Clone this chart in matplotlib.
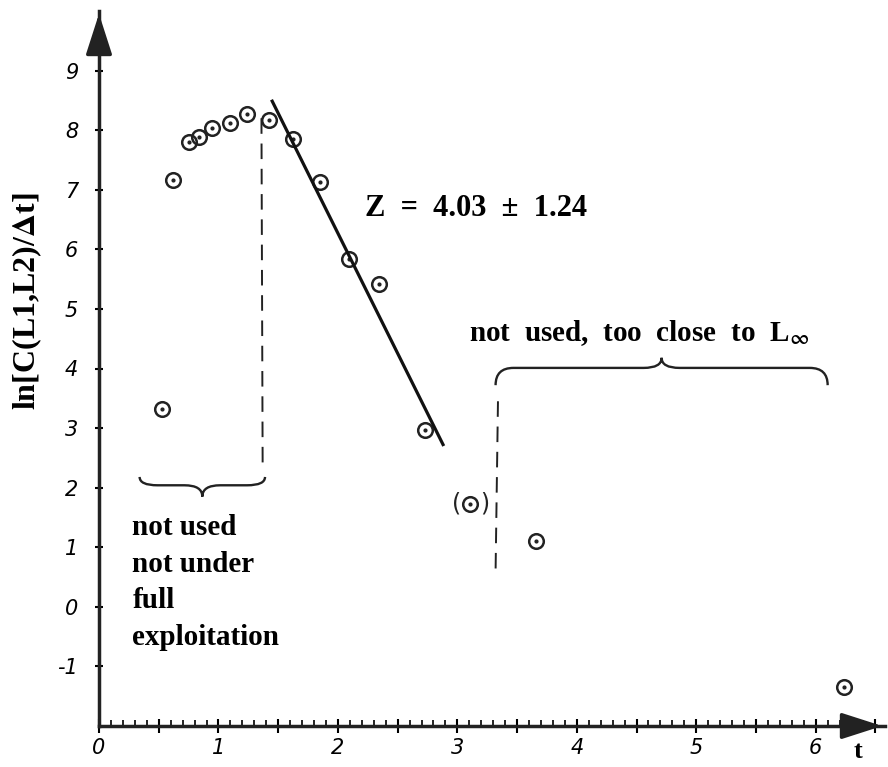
import matplotlib
matplotlib.use("Agg")
import matplotlib.pyplot as plt
from matplotlib.path import Path
from matplotlib.patches import PathPatch
import numpy as np

# values
t = [0.53, 0.62, 0.75, 0.84, 0.95, 1.10, 1.24, 1.42, 1.62, 1.85, 2.09, 2.34, 2.73, 3.11, 3.66, 6.24]
lnC = [3.32, 7.16, 7.80, 7.89, 8.04, 8.12, 8.27, 8.17, 7.85, 7.13, 5.84, 5.42, 2.97, 1.73, 1.11, -1.34]
doubtful = [3.11]          # point shown in parentheses
Z = 4.03
Z_err = 1.24
fit_intercept = 14.33
fit_t = [1.45, 2.88]
y_ticks = [-1, 0, 1, 2, 3, 4, 5, 6, 7, 8, 9]

serif = "Liberation Serif"
plt.rcParams["mathtext.fontset"] = "stix"
hand = dict(family="DejaVu Sans", style="italic", fontsize=15)


def brace(ax, x0, x1, y_end, y_base, y_tip, r=0.15):
    xm = (x0 + x1) / 2
    verts = [(x0, y_end), (x0, y_base), (x0 + r, y_base),
             (xm - r, y_base),
             (xm, y_base), (xm, y_tip),
             (xm, y_base), (xm + r, y_base),
             (x1 - r, y_base),
             (x1, y_base), (x1, y_end)]
    codes = [Path.MOVETO, Path.CURVE3, Path.CURVE3,
             Path.LINETO,
             Path.CURVE3, Path.CURVE3,
             Path.CURVE3, Path.CURVE3,
             Path.LINETO,
             Path.CURVE3, Path.CURVE3]
    ax.add_patch(PathPatch(Path(verts, codes), fill=False, lw=1.7, color="#222222"))


fig = plt.figure(figsize=(8.88, 7.67), dpi=100)
ax = fig.add_axes([99 / 888, 41 / 767, 786 / 888, 715 / 767])
ax.set_xlim(0, 6.58)
ax.set_ylim(-2, 10)

for s in ["top", "right"]:
    ax.spines[s].set_visible(False)
for s in ["left", "bottom"]:
    ax.spines[s].set_linewidth(2.5)
    ax.spines[s].set_color("#222222")

# axis arrow heads
ax.annotate("", xy=(6.58, -2), xytext=(6.35, -2),
            arrowprops=dict(arrowstyle="-|>,head_length=1.4,head_width=0.45",
                            color="#222222", lw=2.5, mutation_scale=18),
            annotation_clip=False)
ax.annotate("", xy=(0, 10), xytext=(0, 9.5),
            arrowprops=dict(arrowstyle="-|>,head_length=1.4,head_width=0.45",
                            color="#222222", lw=2.5, mutation_scale=18),
            annotation_clip=False)

# ticks
xt = np.arange(0, 6.6, 0.5)
ax.set_xticks(xt)
ax.set_xticklabels([str(int(v)) if v == int(v) else "" for v in xt], **hand)
ax.set_xticks(np.arange(0, 6.45, 0.1), minor=True)
ax.set_yticks(y_ticks)
ax.set_yticklabels([str(v) for v in y_ticks], **hand)
ax.tick_params(axis="x", which="major", direction="inout", length=10, width=1.5, pad=4)
ax.tick_params(axis="x", which="minor", direction="in", length=4, width=1.2)
ax.tick_params(axis="y", which="major", direction="inout", length=6, width=1.5, pad=12)

# points
ax.plot(t, lnC, "o", ms=10.5, mfc="none", mec="#222222", mew=1.8, ls="none")
ax.plot(t, lnC, ".", ms=4, color="#222222", ls="none")
for xd in doubtful:
    yd = lnC[t.index(xd)]
    ax.annotate("(", (xd, yd), xytext=(-10, 0), textcoords="offset points",
                ha="center", va="center", fontsize=17, color="#222222")
    ax.annotate(")", (xd, yd), xytext=(10, 0), textcoords="offset points",
                ha="center", va="center", fontsize=17, color="#222222")

# fitted line
fit_y = [fit_intercept - Z * v for v in fit_t]
ax.plot(fit_t, fit_y, color="#111111", lw=2.3)

# dashed separators
ax.plot([1.36, 1.37], [8.2, 2.35], color="#222222", lw=1.4, dashes=(8, 5))
ax.plot([3.34, 3.32], [3.45, 0.6], color="#222222", lw=1.4, dashes=(8, 5))

# braces
brace(ax, 0.34, 1.39, 2.18, 2.04, 1.85)
brace(ax, 3.32, 6.10, 3.72, 4.01, 4.18)

# text
ax.text(2.23, 6.69, "Z  =  %.2f  ±  %.2f" % (Z, Z_err), family=serif,
        fontweight="bold", fontsize=22, ha="left", va="center")
ax.text(3.1, 4.6, r"not  used,  too  close  to  L$_{\mathbf{\infty}}$", family=serif,
        fontweight="bold", fontsize=21, ha="left", va="center")
ax.text(0.28, 1.55, "not used\nnot under\nfull\nexploitation", family=serif,
        fontweight="bold", fontsize=21, ha="left", va="top", linespacing=1.45)

fig.text(27 / 888, 1 - 301 / 767, r"ln[C(L1,L2)/$\mathbf{\Delta}$t]", family=serif,
         fontweight="bold", fontsize=23, rotation=90, ha="center", va="center")
ax.text(6.35, -2.43, "t", family=serif, fontweight="bold", fontsize=19, ha="center", va="center")

fig.savefig("out.png", dpi=100)
